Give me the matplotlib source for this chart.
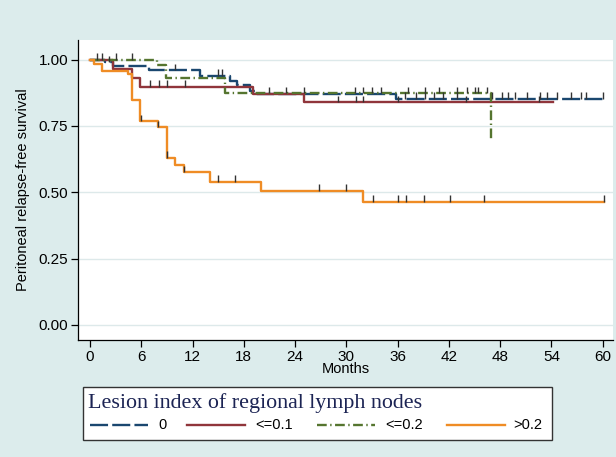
import numpy as np
import matplotlib
matplotlib.use("Agg")
import matplotlib.pyplot as plt
from matplotlib.lines import Line2D
from matplotlib.patches import Rectangle

# Kaplan-Meier step curves (month of each step, survival after the step)
blue_t = [0, 1.8, 2.7, 6.9, 12.9, 16.4, 17.2, 18.7, 19.6, 35.8, 60.1]
blue_s = [1.0, 0.99, 0.976, 0.961, 0.939, 0.92, 0.905, 0.883, 0.872, 0.853, 0.853]
red_t = [0, 2.7, 4.9, 5.9, 19.1, 25.0, 54.2]
red_s = [1.0, 0.965, 0.93, 0.898, 0.871, 0.839, 0.839]
green_t = [0, 7.8, 8.9, 15.8, 46.9]
green_s = [1.0, 0.98, 0.929, 0.873, 0.70]
orange_t = [0, 0.5, 1.4, 4.5, 4.9, 5.9, 8.0, 9.0, 10.0, 11.0, 14.0, 20.0, 32.0, 60.1]
orange_s = [1.0, 0.985, 0.957, 0.944, 0.848, 0.767, 0.745, 0.631, 0.603, 0.575,
            0.540, 0.506, 0.464, 0.464]

# censored observations (months)
blue_cens = [0.8, 1.4, 2.2, 9.9, 15.0, 15.4, 36.9, 38.2, 39.2, 40.3, 41.3, 42.9,
             47.0, 48.2, 48.9, 49.7, 51.1, 52.7, 53.5, 54.7, 56.3, 57.4, 58.0, 60.0]
red_cens = [7.0, 8.1, 9.0, 11.1, 29.0, 31.1, 32.0, 36.0, 44.0, 52.5]
green_cens = [3.0, 4.9, 20.9, 22.9, 25.0, 31.0, 32.0, 33.0, 34.0, 37.2, 39.2,
              40.8, 42.9, 44.1, 45.0, 45.4, 46.4]
orange_cens = [6.0, 8.0, 9.0, 11.0, 15.0, 17.0, 26.8, 29.9, 33.1, 36.1, 37.0,
               39.1, 42.1, 46.1, 60.1]

labels = ["0", "<=0.1", "<=0.2", ">0.2"]
colors = ["#1a476f", "#90353b", "#55752f", "#ef8c25"]
styles = [(0, (13, 3)), "-", (0, (7, 2.5, 1, 2.5)), "-"]

plt.rcParams["font.family"] = ["Liberation Sans", "DejaVu Sans"]
plt.rcParams["lines.scale_dashes"] = False

fig = plt.figure(figsize=(6.16, 4.57), dpi=100, facecolor="#dcecec")
ax = fig.add_axes([78 / 616, 1 - 340 / 457, (613 - 78) / 616, 300 / 457])
ax.set_facecolor("white")

curves = [(blue_t, blue_s, blue_cens), (red_t, red_s, red_cens),
          (green_t, green_s, green_cens), (orange_t, orange_s, orange_cens)]

for (t, s, cens), c, ls in zip(curves, colors, styles):
    ax.step(t, s, where="post", color=c, lw=1.7, linestyle=ls, zorder=3)
    # survival level at each censoring time -> small upward spike
    idx = np.searchsorted(t, cens, side="right") - 1
    lev = np.array(s)[idx]
    ax.vlines(cens, lev, lev + 0.024, color="#333333", lw=1.0, zorder=4)

ax.set_xlim(-1.4, 61.2)
ax.set_ylim(-0.057, 1.074)
ax.set_xticks(np.arange(0, 61, 6))
ax.set_yticks([0, 0.25, 0.5, 0.75, 1.0])
ax.set_yticklabels(["0.00", "0.25", "0.50", "0.75", "1.00"])
ax.tick_params(labelsize=11, length=5, width=0.9, colors="black", pad=2)
ax.grid(axis="y", color="#dde9ea", lw=1.0, zorder=0)
for side in ["top", "right"]:
    ax.spines[side].set_visible(False)
for side in ["left", "bottom"]:
    ax.spines[side].set_linewidth(0.9)
ax.set_ylabel("Peritoneal relapse-free survival", fontsize=10.5, labelpad=6)
ax.set_xlabel("Months", fontsize=10.5, labelpad=-1)

# legend box below the plot
fig.add_artist(Rectangle((83 / 616, 1 - 440 / 457), (552 - 83) / 616, 53 / 457,
                         transform=fig.transFigure, facecolor="white",
                         edgecolor="#333333", lw=1.0))
fig.text(88 / 616, 1 - 403 / 457, "Lesion index of regional lymph nodes",
         family="Liberation Serif", fontsize=15.8, color="#1c2454", va="center")
row_y = 1 - 425 / 457
seg_x = [90, 187, 317, 447]
lab_x = [158, 255, 385, 513]
for sx, lx, lab, c, ls in zip(seg_x, lab_x, labels, colors, styles):
    fig.add_artist(Line2D([sx / 616, (sx + 58) / 616], [row_y, row_y],
                          transform=fig.transFigure, color=c, lw=1.7,
                          linestyle=ls))
    fig.text(lx / 616, row_y, lab, fontsize=10.5, va="center")

fig.savefig("out.png", dpi=100, facecolor=fig.get_facecolor())
